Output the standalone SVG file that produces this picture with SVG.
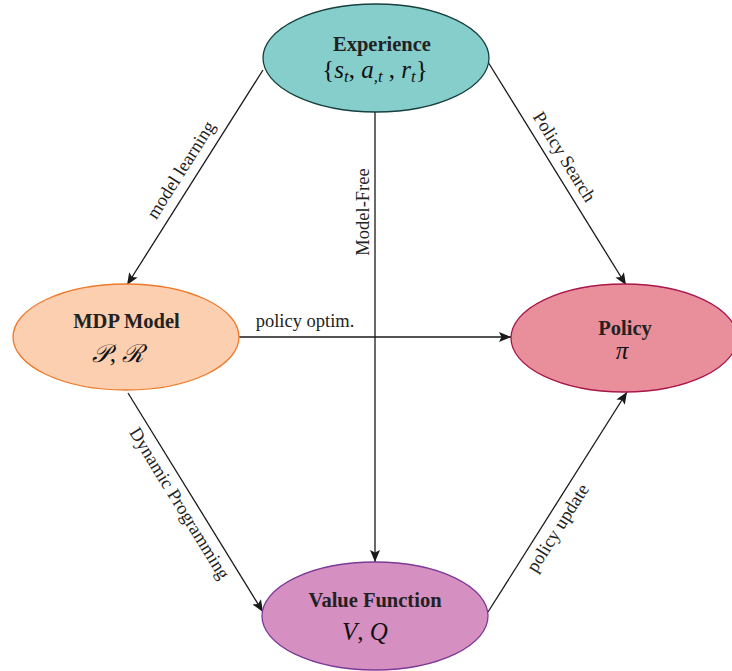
<svg xmlns="http://www.w3.org/2000/svg" width="732" height="671" viewBox="0 0 732 671">
  <defs>
    <marker id="arrow" viewBox="0 0 12 10" refX="12" refY="5" markerWidth="12" markerHeight="10" markerUnits="userSpaceOnUse" orient="auto">
      <path d="M0,0 L12,5 L0,10 L2.5,5 Z" fill="#1a1a1a"/>
    </marker>
  </defs>
  <style>
    .title { font-family: "Liberation Serif", "Times New Roman", serif; font-weight: bold; font-size: 20.5px; fill: #222; text-anchor: middle; }
    .math { font-family: "Liberation Serif", "Times New Roman", serif; font-style: italic; font-size: 25px; fill: #111; text-anchor: middle; }
    .up { font-style: normal; }
    .sub { font-size: 17px; }
    .lbl { font-family: "Liberation Serif", "Times New Roman", serif; font-size: 18.5px; fill: #222; text-anchor: middle; }
    .edge { stroke: #1a1a1a; stroke-width: 1.3; fill: none; marker-end: url(#arrow); }
  </style>
  <rect width="732" height="671" fill="#ffffff"/>

  <!-- connectors -->
  <g id="edges">
    <line class="edge" x1="263" y1="70" x2="127" y2="285"/>
    <line class="edge" x1="488" y1="62" x2="626" y2="285"/>
    <line class="edge" x1="375" y1="112" x2="375" y2="562"/>
    <line class="edge" x1="239" y1="337" x2="511" y2="337"/>
    <line class="edge" x1="128" y1="393" x2="263" y2="612"/>
    <line class="edge" x1="488" y1="612" x2="627" y2="392"/>

    <text class="lbl" transform="translate(194.4,178.4) rotate(-57.7)" y="-10">model learning</text>
    <text class="lbl" transform="translate(551.5,164.6) rotate(58.25)" y="-9">Policy Search</text>
    <text class="lbl" transform="translate(375,212) rotate(-90)" y="-6">Model-Free</text>
    <text class="lbl" x="305" y="327">policy optim.</text>
    <text class="lbl" transform="translate(191.5,496) rotate(58.35)" y="20">Dynamic Programming</text>
    <text class="lbl" transform="translate(545.9,520.4) rotate(-57.7)" y="20">policy update</text>
  </g>

  <!-- nodes -->
  <g id="experience">
    <ellipse cx="376" cy="58" rx="113" ry="54" fill="#85CECC" stroke="#17403f" stroke-width="1.3"/>
    <text class="title" x="382" y="51">Experience</text>
    <text class="math" x="375" y="78"><tspan class="up">{</tspan>s<tspan class="sub" dy="4">t</tspan><tspan class="up" dy="-4">, </tspan>a<tspan class="sub" dy="4">,t</tspan><tspan class="up" dy="-4"> , </tspan>r<tspan class="sub" dy="4">t</tspan><tspan class="up" dy="-4">}</tspan></text>
  </g>

  <g id="mdp-model">
    <ellipse cx="126" cy="337" rx="113" ry="53" fill="#FBCFB0" stroke="#EE7A2A" stroke-width="1.3"/>
    <text class="title" x="126.5" y="328">MDP Model</text>
    <text class="math" x="118" y="362">𝒫<tspan class="up">, </tspan>ℛ</text>
  </g>

  <g id="policy">
    <ellipse cx="624" cy="338" rx="113" ry="54" fill="#E98F9B" stroke="#A8164A" stroke-width="1.3"/>
    <text class="title" x="625" y="335">Policy</text>
    <text class="math" x="622" y="359">π</text>
  </g>

  <g id="value-function">
    <ellipse cx="375" cy="616" rx="113" ry="54" fill="#D68FC1" stroke="#7B3A96" stroke-width="1.3"/>
    <text class="title" x="375" y="607">Value Function</text>
    <text class="math" x="365" y="640">V<tspan class="up">, </tspan>Q</text>
  </g>
</svg>
